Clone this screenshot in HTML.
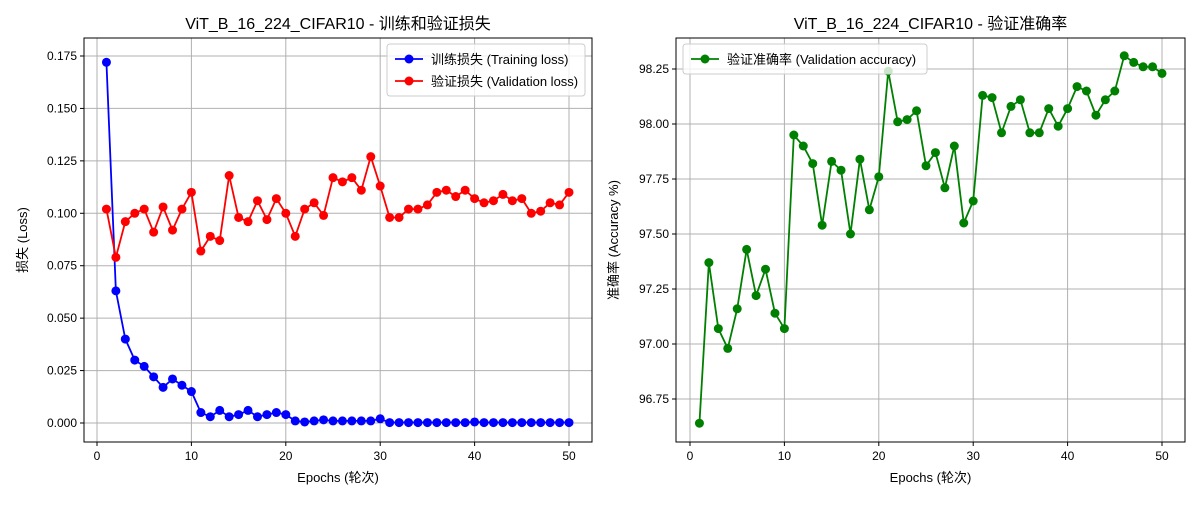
<!DOCTYPE html>
<html><head><meta charset="utf-8"><style>
body{margin:0;background:#fff;}
svg text{font-family:"Liberation Sans","DejaVu Sans","Noto Sans CJK SC",sans-serif;fill:#000;}
</style></head><body>
<svg id="svg" width="1200" height="500" xmlns="http://www.w3.org/2000/svg"></svg>
<script>
const epochs = Array.from({length:50},(_,i)=>i+1);
const trainLoss = [0.172,0.063,0.040,0.030,0.027,0.022,0.017,0.021,0.018,0.015,0.005,0.003,0.006,0.003,0.004,0.006,0.003,0.004,0.005,0.004,0.001,0.0005,0.001,0.0015,0.001,0.001,0.001,0.001,0.001,0.002,0.0002,0.0002,0.0002,0.0002,0.0002,0.0002,0.0002,0.0002,0.0002,0.0005,0.0002,0.0002,0.0002,0.0002,0.0002,0.0002,0.0002,0.0002,0.0002,0.0002];
const valLoss = [0.102,0.079,0.096,0.100,0.102,0.091,0.103,0.092,0.102,0.110,0.082,0.089,0.087,0.118,0.098,0.096,0.106,0.097,0.107,0.100,0.089,0.102,0.105,0.099,0.117,0.115,0.117,0.111,0.127,0.113,0.098,0.098,0.102,0.102,0.104,0.110,0.111,0.108,0.111,0.107,0.105,0.106,0.109,0.106,0.107,0.100,0.101,0.105,0.104,0.110];
const valAcc = [96.64,97.37,97.07,96.98,97.16,97.43,97.22,97.34,97.14,97.07,97.95,97.90,97.82,97.54,97.83,97.79,97.50,97.84,97.61,97.76,98.24,98.01,98.02,98.06,97.81,97.87,97.71,97.90,97.55,97.65,98.13,98.12,97.96,98.08,98.11,97.96,97.96,98.07,97.99,98.07,98.17,98.15,98.04,98.11,98.15,98.31,98.28,98.26,98.26,98.23];
const xTicks = [0,10,20,30,40,50];
const lossTicks = [0,0.025,0.05,0.075,0.1,0.125,0.15,0.175];
const accTicks = [96.75,97.0,97.25,97.5,97.75,98.0,98.25];

const svg=document.getElementById('svg');
const NS='http://www.w3.org/2000/svg';
function mk(tag,attrs,parent){const e=document.createElementNS(NS,tag);for(const k in attrs)e.setAttribute(k,attrs[k]);(parent||svg).appendChild(e);return e;}
function txt(s,attrs,parent){const e=mk('text',attrs,parent);e.textContent=s;return e;}

function panel(o){
  const g=mk('g',{});
  
  
  const X=v=>o.x0+(v-o.xmin)/(o.xmax-o.xmin)*(o.x1-o.x0);
  const Y=v=>o.yb-(v-o.ymin)/(o.ymax-o.ymin)*(o.yb-o.yt);
  // grid
  xTicks.forEach(t=>{
    mk('line',{x1:X(t),x2:X(t),y1:o.top,y2:o.bot,stroke:'#b0b0b0','stroke-width':1},g);
    mk('line',{x1:X(t),x2:X(t),y1:o.bot,y2:o.bot+4,stroke:'#000'},g);
    const t1=txt(String(t),{x:X(t),y:o.bot+18,'font-size':12,'text-anchor':'middle'},g);
    
  });
  o.yTicks.forEach(t=>{
    mk('line',{x1:o.left,x2:o.right,y1:Y(t),y2:Y(t),stroke:'#b0b0b0','stroke-width':1},g);
    mk('line',{x1:o.left-4,x2:o.left,y1:Y(t),y2:Y(t),stroke:'#000'},g);
    const t1=txt(t.toFixed(o.dec),{x:o.left-7,y:Y(t)+4,'font-size':12,'text-anchor':'end'},g);
    
  });
  o.series.forEach(s=>{
    const sg=mk('g',{},g);
    
    
    mk('polyline',{points:s.data.map((v,i)=>X(epochs[i])+','+Y(v)).join(' '),fill:'none',stroke:s.color,'stroke-width':1.8},sg);
    s.data.forEach((v,i)=>{
      const c=mk('circle',{cx:X(epochs[i]),cy:Y(v),r:4.5,fill:s.color},sg);
      
      
    });
  });
  mk('rect',{x:o.left,y:o.top,width:o.right-o.left,height:o.bot-o.top,fill:'none',stroke:'#000','stroke-width':1},g);
  const ti=txt(o.title,{x:(o.left+o.right)/2,y:o.top-9,'font-size':16,'text-anchor':'middle'},g);
  
  const xl=txt('Epochs (轮次)',{x:(o.left+o.right)/2,y:o.bot+40,'font-size':13,'text-anchor':'middle'},g);
  
  const cy=(o.top+o.bot)/2;
  const yl=txt(o.ylabel,{x:o.ylx,y:cy,'font-size':13,'text-anchor':'middle',transform:`rotate(-90 ${o.ylx} ${cy})`},g);
  
  // legend
  const lg=mk('g',{},g);
  
  
  mk('rect',{x:o.lx,y:o.ly,width:o.lw,height:8+o.series.length*22,rx:3,fill:'#fff','fill-opacity':0.8,stroke:'#ccc'},lg);
  o.series.forEach((s,i)=>{
    const yy=o.ly+15+i*22;
    const e=mk('g',{},lg);
    
    
    mk('line',{x1:o.lx+8,x2:o.lx+36,y1:yy,y2:yy,stroke:s.color,'stroke-width':1.8},e);
    mk('circle',{cx:o.lx+22,cy:yy,r:4.5,fill:s.color},e);
    txt(s.label,{x:o.lx+44,y:yy+5,'font-size':13},e);
  });
}
panel({name:'loss-chart',left:84,right:592,top:38,bot:442,x0:97,x1:569,xmin:0,xmax:50,yb:423,yt:56,ymin:0,ymax:0.175,
  yTicks:lossTicks,dec:3,title:'ViT_B_16_224_CIFAR10 - 训练和验证损失',ylabel:'损失 (Loss)',ylx:27,
  lx:387,ly:44,lw:198,
  series:[{name:'training-loss-series',data:trainLoss,color:'#0000ff',label:'训练损失 (Training loss)'},
          {name:'validation-loss-series',data:valLoss,color:'#ff0000',label:'验证损失 (Validation loss)'}]});
panel({name:'accuracy-chart',left:676,right:1185,top:38,bot:442,x0:690,x1:1162,xmin:0,xmax:50,yb:399,yt:69,ymin:96.75,ymax:98.25,
  yTicks:accTicks,dec:2,title:'ViT_B_16_224_CIFAR10 - 验证准确率',ylabel:'准确率 (Accuracy %)',ylx:618,
  lx:683,ly:44,lw:244,
  series:[{name:'validation-accuracy-series',data:valAcc,color:'#008000',label:'验证准确率 (Validation accuracy)'}]});
</script>
</body></html>
